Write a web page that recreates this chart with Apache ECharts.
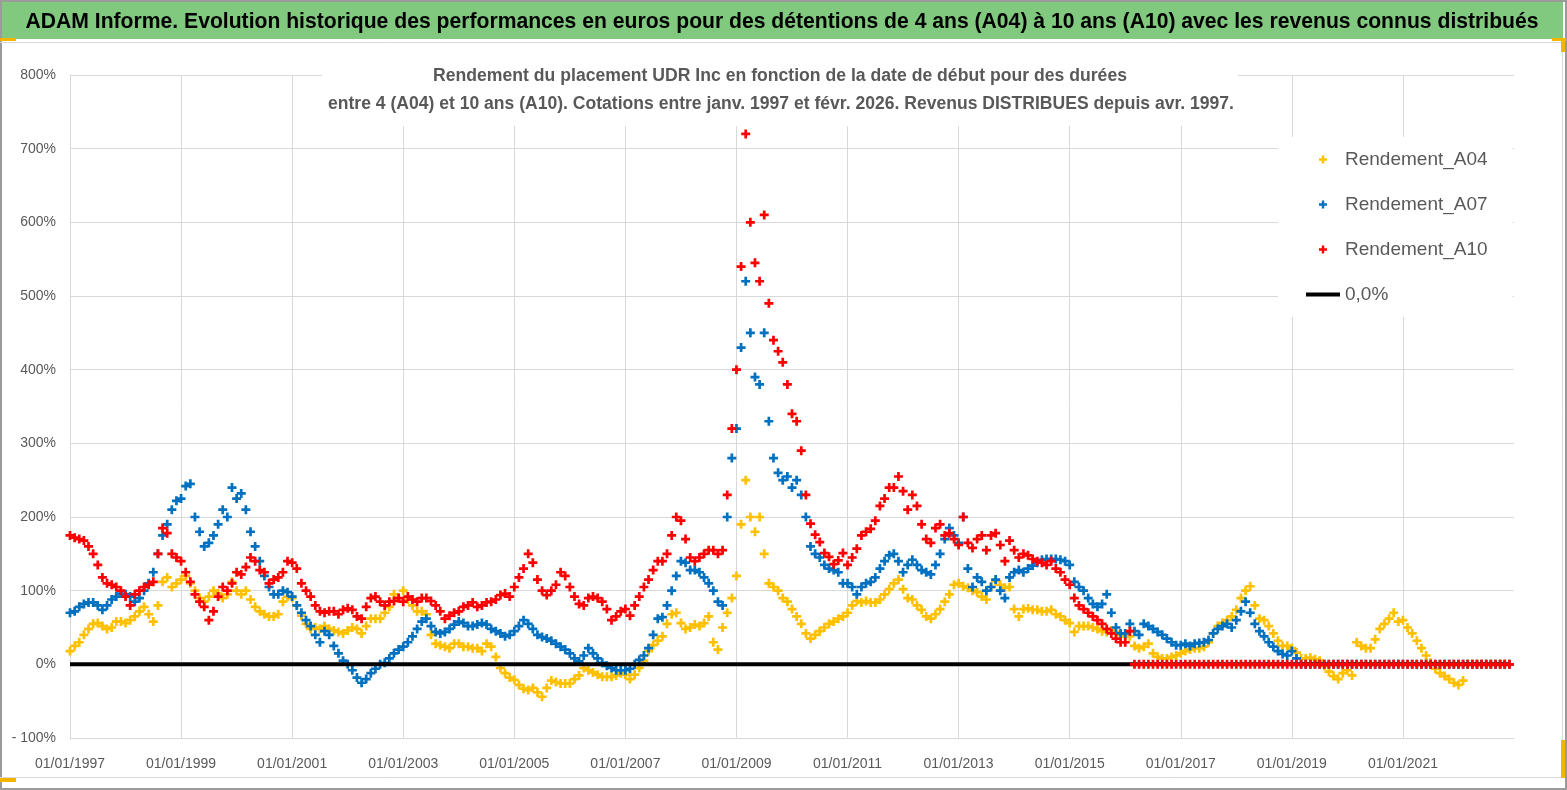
<!DOCTYPE html>
<html>
<head>
<meta charset="utf-8">
<title>UDR Inc - Rendement A04 / A07 / A10</title>
<script src="https://cdn.jsdelivr.net/npm/echarts@6/dist/echarts.min.js"></script>
<style>
  html, body { margin: 0; padding: 0; background: #fff; }
  #chart { width: 1567px; height: 790px; }
</style>
</head>
<body>
<div id="chart"></div>
<script>
// one value per month of start date, first value = january 1997 (in %)
const startYear = 1997;
const axisMin = 1997;
const axisMax = 2023;

const a04 = [
  18, 25, 30, 40, 48, 55, 56, 52, 48, 50, 58, 58,
  56, 60, 65, 72, 78, 68, 58, 80, 112, 118, 105, 110,
  115, 120, 110, 100, 90, 85, 92, 100, 96, 90, 95, 112,
  100, 95, 100, 88, 78, 72, 68, 65, 65, 68, 85, 92,
  90, 80, 66, 55, 48, 50, 48, 52, 48, 46, 44, 42,
  46, 50, 48, 42, 52, 62, 62, 62, 70, 78, 95, 90,
  100, 88, 80, 72, 72, 68, 40, 28, 26, 24, 22, 28,
  28, 24, 24, 22, 22, 18, 28, 24, 10, -5, -12, -18,
  -21, -28, -33, -35, -32, -38, -44, -32, -22, -24, -26, -26,
  -26, -20, -15, -5, -8, -11, -14, -17, -17, -17, -15, -12,
  -14, -20, -14, -5, 5, 18, 26, 32, 38, 55, 68, 70,
  56, 48, 50, 54, 52, 56, 65, 30, 20, 50, 70, 90,
  120, 190, 250, 200, 180, 200, 150, 110, 105, 100, 90, 85,
  75, 65, 55, 42, 35, 40, 45, 50, 55, 58, 62, 65,
  70, 80, 86, 84, 86, 84, 84, 88, 95, 102, 110, 115,
  102, 90, 88, 80, 74, 65, 62, 68, 75, 85, 95, 108,
  110, 106, 104, 100, 98, 92, 88, 105, 113, 108, 104, 105,
  75, 65, 75, 76, 74, 74, 72, 72, 74, 68, 65, 60,
  56, 44, 52, 52, 52, 50, 48, 45, 44, 46, 44, 40,
  38, 38, 25, 22, 24, 28, 15, 10, 8, 8, 10, 12,
  15, 18, 20, 22, 22, 24, 30, 42, 52, 56, 60, 65,
  74, 90, 100, 106, 80, 62, 60, 52, 42, 32, 25, 25,
  22, 16, 8, 8, 9, 7, 5, -2, -10, -16, -20, -12,
  -8, -15, 30, 25, 22, 22, 34, 48, 55, 62, 70, 58,
  60, 50, 42, 32, 22, 12, 2, -6, -12, -16, -20, -25,
  -28, -22, 0, 0, 0, 0, 0, 0, 0, 0, 0, 0
];

const a07 = [
  70, 72, 78, 82, 84, 84, 80, 74, 80, 88, 92, 96,
  95, 92, 85, 90, 100, 110, 125, 150, 175, 190, 210, 222,
  225, 242, 245, 200, 180, 160, 165, 175, 190, 210, 200, 240,
  225, 232, 210, 180, 160, 140, 120, 105, 95, 95, 100, 98,
  92, 80, 70, 60, 52, 40, 30, 45, 40, 25, 15, 5,
  0, -8, -18, -25, -20, -12, -6, 0, 2, 8, 15, 20,
  24, 30, 38, 48, 58, 62, 52, 44, 42, 44, 48, 54,
  58, 56, 52, 52, 54, 56, 54, 48, 45, 42, 38, 40,
  45, 52, 60, 55, 48, 40, 37, 35, 32, 28, 24, 20,
  15, 8, 4, 12, 22, 15, 8, 2, -2, -5, -8, -8,
  -8, -6, 0, 6, 12, 22, 40, 62, 64, 80, 100, 120,
  140, 138, 128, 128, 125, 118, 110, 100, 85, 80, 200, 280,
  320, 430, 520, 450, 390, 380, 450, 330, 280, 260, 250, 255,
  240, 250, 230, 200, 160, 150, 145, 135, 130, 128, 125, 110,
  110, 105, 95, 105, 110, 112, 118, 130, 140, 148, 150, 140,
  125, 135, 142, 135, 128, 125, 122, 135, 150, 170, 185, 175,
  165, 200, 130, 105, 118, 112, 100, 105, 115, 100, 90, 118,
  125, 128, 125, 130, 134, 138, 142, 143, 143, 143, 142, 140,
  135, 112, 105, 100, 90, 82, 78, 82, 95, 70, 50, 42,
  42, 55, 45, 40, 55, 52, 48, 44, 40, 35, 30, 26,
  26, 28, 25, 28, 29, 30, 33, 42, 48, 52, 55, 50,
  60, 72, 85, 70, 55, 45, 38, 30, 24, 18, 14, 12,
  18, 8, 0, 0, 0, 0, 0, 0, 0, 0, 0, 0,
  0, 0, 0, 0, 0, 0, 0, 0, 0, 0, 0, 0,
  0, 0, 0, 0, 0, 0, 0, 0, 0, 0, 0, 0,
  0, 0, 0, 0, 0, 0, 0, 0, 0, 0, 0, 0
];

const a10 = [
  175, 172, 170, 168, 160, 150, 135, 118, 110, 108, 105, 100,
  92, 80, 95, 100, 105, 108, 112, 150, 185, 178, 150, 145,
  140, 125, 112, 95, 85, 78, 60, 72, 92, 105, 100, 110,
  125, 122, 132, 145, 140, 128, 125, 110, 115, 118, 125, 140,
  138, 130, 110, 100, 92, 80, 72, 70, 72, 72, 68, 74,
  76, 74, 65, 62, 78, 90, 92, 85, 80, 85, 86, 90,
  85, 92, 88, 85, 90, 90, 86, 80, 72, 62, 66, 70,
  72, 78, 80, 84, 78, 80, 84, 85, 88, 94, 96, 92,
  105, 118, 130, 150, 138, 115, 100, 94, 100, 108, 125, 120,
  105, 92, 82, 80, 90, 92, 90, 85, 75, 60, 65, 72,
  75, 66, 80, 92, 105, 115, 128, 140, 140, 150, 175, 200,
  195, 170, 145, 140, 145, 150, 155, 155, 150, 155, 230, 320,
  400, 540, 720, 600, 545, 520, 610, 490, 440, 425, 410, 380,
  340, 330, 290, 230, 191, 176, 166, 151, 146, 136, 141, 151,
  135, 145, 157, 175, 180, 184, 195, 215, 225, 240, 240, 255,
  235, 210, 230, 215, 190, 170, 165, 185, 190, 175, 178, 170,
  162, 200, 165, 158, 170, 175, 155, 175, 178, 162, 140, 168,
  155, 145, 150, 148, 143, 140, 138, 135, 140, 130, 125, 115,
  108, 90, 80, 75, 70, 65, 60, 55, 48, 42, 35, 30,
  30, 45, 0, 0, 0, 0, 0, 0, 0, 0, 0, 0,
  0, 0, 0, 0, 0, 0, 0, 0, 0, 0, 0, 0,
  0, 0, 0, 0, 0, 0, 0, 0, 0, 0, 0, 0,
  0, 0, 0, 0, 0, 0, 0, 0, 0, 0, 0, 0,
  0, 0, 0, 0, 0, 0, 0, 0, 0, 0, 0, 0,
  0, 0, 0, 0, 0, 0, 0, 0, 0, 0, 0, 0,
  0, 0, 0, 0, 0, 0, 0, 0, 0, 0, 0, 0
];

const seriesNames = ['Rendement_A04', 'Rendement_A07', 'Rendement_A10', '0,0%'];
const titleText = 'ADAM Informe. Evolution historique des performances en euros pour des détentions de 4 ans (A04) à 10 ans (A10) avec les revenus connus distribués';
const subLine1 = 'Rendement du placement UDR Inc en fonction de la date de début pour des durées';
const subLine2 = 'entre 4 (A04) et 10 ans (A10). Cotations entre janv. 1997 et févr. 2026. Revenus DISTRIBUES depuis avr. 1997.';

const FONT = "'Liberation Sans', Arial, sans-serif";
const GREY = '#595959';
const PLUS = 'path://M2.8,0H5.2V2.8H8V5.2H5.2V8H2.8V5.2H0V2.8H2.8Z';

function toPoints(vals) {
  return vals.map((v, i) => [startYear + i / 12, v]);
}
// the "0,0%" reference series: zero on every start date
const zeroRef = a10.map(() => 0);

// squeeze a text horizontally so it fills the same width as in the excel export
function fit(text, font, width) {
  const ctx = document.createElement('canvas').getContext('2d');
  ctx.font = font;
  return width / ctx.measureText(text).width;
}

const titleFont = 'bold 22px ' + FONT;
const subFont = 'bold 18px ' + FONT;

function label(text, font, x, y, width, color) {
  return {
    type: 'text', z: 1, silent: true, x: x, y: y, scaleX: fit(text, font, width),
    style: { text: text, font: font, fill: color, align: 'center', verticalAlign: 'middle',
             textAlign: 'center', textVerticalAlign: 'middle' }
  };
}

function scatter(name, vals, color, z) {
  return {
    name: name, type: 'scatter', data: toPoints(vals), symbol: PLUS, symbolSize: 9,
    itemStyle: { color: color, opacity: 1 }, z: z, silent: true
  };
}

const chart = echarts.init(document.getElementById('chart'));

chart.setOption({
  animation: false,
  backgroundColor: '#fff',
  grid: { left: 70, right: 53, top: 75, bottom: 52, containLabel: false, outerBoundsMode: 'none' },
  graphic: [
    { type: 'rect', z: 1, silent: true, shape: { x: 1, y: 1, width: 1565, height: 788 },
      style: { fill: 'none', stroke: '#9a9a9a', lineWidth: 2 } },
    { type: 'rect', z: 1, silent: true, shape: { x: 2, y: 2, width: 1561, height: 37 },
      style: { fill: '#80c97f' } },
    { type: 'line', z: 1, silent: true, shape: { x1: 0, y1: 42.5, x2: 1562, y2: 42.5 },
      style: { stroke: '#d9d9d9', lineWidth: 1 } },
    { type: 'line', z: 1, silent: true, shape: { x1: 1562.5, y1: 42, x2: 1562.5, y2: 777 },
      style: { stroke: '#d9d9d9', lineWidth: 1 } },
    { type: 'line', z: 1, silent: true, shape: { x1: 0, y1: 777.5, x2: 1562, y2: 777.5 },
      style: { stroke: '#d9d9d9', lineWidth: 1 } },
    label(titleText, titleFont, 782, 22, 1513, '#000'),
    { type: 'rect', z: 1, silent: true, shape: { x: 322, y: 55, width: 916, height: 71 },
      style: { fill: '#fff' } },
    label(subLine1, subFont, 780, 76, 694, GREY),
    label(subLine2, subFont, 781, 104, 906, GREY),
    // excel selection handles
    { type: 'rect', z: 1, silent: true, shape: { x: 0, y: 38, width: 16, height: 3 }, style: { fill: '#f5b400' } },
    { type: 'rect', z: 1, silent: true, shape: { x: 0, y: 778, width: 16, height: 4 }, style: { fill: '#f5b400' } },
    { type: 'rect', z: 1, silent: true, shape: { x: 1552, y: 38, width: 14, height: 3 }, style: { fill: '#f5b400' } },
    { type: 'rect', z: 1, silent: true, shape: { x: 1561, y: 38, width: 4, height: 14 }, style: { fill: '#f5b400' } },
    { type: 'rect', z: 1, silent: true, shape: { x: 1561, y: 740, width: 4, height: 38 }, style: { fill: '#f5b400' } }
  ],
  legend: {
    orient: 'vertical',
    left: 1278,
    top: 137,
    padding: [13, 25, 13, 28],
    itemGap: 26,
    itemWidth: 34,
    itemHeight: 8,
    backgroundColor: '#fff',
    selectedMode: false,
    textStyle: { fontFamily: FONT, fontSize: 19, color: GREY },
    data: [
      { name: seriesNames[0] },
      { name: seriesNames[1] },
      { name: seriesNames[2] },
      { name: seriesNames[3], icon: 'path://M0,0H34V4H0Z' }
    ]
  },
  xAxis: {
    type: 'value',
    min: axisMin,
    max: axisMax,
    interval: 2,
    axisLine: { show: true, onZero: false, lineStyle: { color: '#d9d9d9', width: 1 } },
    axisTick: { show: false },
    axisLabel: {
      margin: 19, color: GREY, fontFamily: FONT, fontSize: 14,
      showMaxLabel: false,
      formatter: v => '01/01/' + v
    },
    splitLine: { show: true, showMaxLine: false, lineStyle: { color: '#d9d9d9', width: 1 } }
  },
  yAxis: {
    type: 'value',
    min: -100,
    max: 800,
    interval: 100,
    axisLine: { show: true, lineStyle: { color: '#d9d9d9', width: 1 } },
    axisTick: { show: false },
    axisLabel: {
      margin: 14, color: GREY, fontFamily: FONT, fontSize: 14,
      formatter: v => (v < 0 ? '- ' + Math.abs(v) : v) + '%'
    },
    splitLine: { show: true, lineStyle: { color: '#d9d9d9', width: 1 } }
  },
  series: [
    scatter(seriesNames[0], a04, '#ffc000', 2),
    scatter(seriesNames[1], a07, '#0070c0', 3),
    { name: seriesNames[3], type: 'line', data: toPoints(zeroRef), showSymbol: false, symbol: 'none',
      lineStyle: { color: '#000', width: 4 }, itemStyle: { color: '#000' }, z: 4, silent: true },
    scatter(seriesNames[2], a10, '#ff0000', 5)
  ]
});
</script>
</body>
</html>
